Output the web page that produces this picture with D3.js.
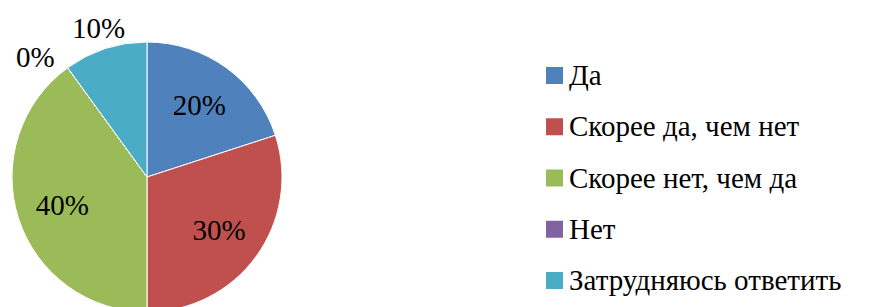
<!DOCTYPE html>
<html><head><meta charset="utf-8">
<script src="https://cdn.jsdelivr.net/npm/d3@7"></script>
<style>html,body{margin:0;padding:0;background:#fff;overflow:hidden}
text{font-family:"Liberation Serif","Times New Roman",Tinos,"DejaVu Serif",serif}</style>
</head><body>
<svg id="c" width="873" height="307"></svg>
<script>
const categories = ["Да", "Скорее да, чем нет", "Скорее нет, чем да", "Нет", "Затрудняюсь ответить"];
const values = [20, 30, 40, 0, 10];
const labels = ["20%", "30%", "40%", "0%", "10%"];
const colors = ["#4F81BD", "#C0504D", "#9BBB59", "#8064A2", "#4BACC6"];
const outside = [false, false, false, true, true];

const svg = d3.select("#c");
const cx = 147, cy = 177, R = 135;
const fs = 29;

const pie = d3.pie().sort(null).value(d => d)(values);
const arc = d3.arc().innerRadius(0).outerRadius(R);
const g = svg.append("g").attr("transform", `translate(${cx},${cy})`);
g.selectAll("path").data(pie).join("path")
  .attr("d", arc)
  .attr("fill", (d, i) => colors[i])
  .attr("stroke", "#fff").attr("stroke-width", 1);

const inArc = d3.arc().innerRadius(R * 0.66).outerRadius(R * 0.66);
const outArc = d3.arc().innerRadius(R + 22).outerRadius(R + 22);
const zeroArc = d3.arc().innerRadius(R + 29).outerRadius(R + 29);
g.selectAll("text").data(pie).join("text")
  .attr("transform", (d, i) => {
    let c;
    if (outside[i]) {
      if (d.endAngle - d.startAngle < 0.01) {
        const dd = Object.assign({}, d, {startAngle: d.startAngle - 0.12, endAngle: d.startAngle - 0.12});
        c = zeroArc.centroid(dd);
      } else c = outArc.centroid(d);
    } else c = inArc.centroid(d);
    return `translate(${c[0]},${c[1]})`;
  })
  .attr("text-anchor", "middle").attr("dy", "0.35em")
  .style("font-size", fs + "px").attr("fill", "#000")
  .text((d, i) => labels[i]);

const y = d3.scalePoint().domain(categories).range([75, 280]);
const lg = svg.append("g");
const items = lg.selectAll("g").data(categories).join("g")
  .attr("transform", d => `translate(546,${y(d)})`);
items.append("rect").attr("x", 0).attr("y", -8).attr("width", 17).attr("height", 17)
  .attr("fill", (d, i) => colors[i]);
items.append("text").attr("x", 23).attr("dy", "0.35em")
  .style("font-size", fs + "px").attr("fill", "#000")
  .text(d => d);
</script>
</body></html>
